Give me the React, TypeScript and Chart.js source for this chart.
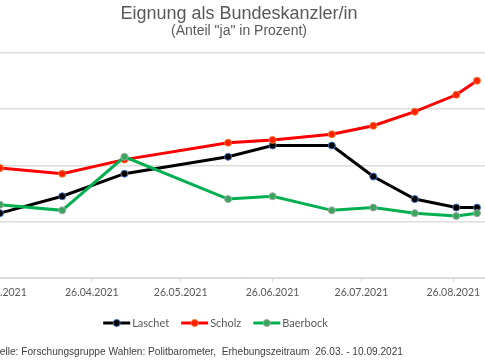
import React, { useEffect, useRef } from 'react';
import { Chart, registerables } from 'chart.js';

Chart.register(...registerables);

// ---- data ----
const surveyDates = ['2021-03-26', '2021-04-16', '2021-05-07', '2021-06-11', '2021-06-26', '2021-07-16', '2021-07-30', '2021-08-13', '2021-08-27', '2021-09-03'];
const laschet = [23, 29, 37, 43, 47, 47, 36, 28, 25, 25];
const scholz = [39, 37, 42, 48, 49, 51, 54, 59, 65, 70];
const baerbock = [26, 24, 43, 28, 29, 24, 25, 23, 22, 23];
const seriesNames = ['Laschet', 'Scholz', 'Baerbock'];
const axisTickDates = ['2021-03-26', '2021-04-26', '2021-05-26', '2021-06-26', '2021-07-26', '2021-08-26'];
const yTicks = [0, 20, 40, 60, 80];
const titleText = 'Eignung als Bundeskanzler/in';
const subtitleText = '(Anteil "ja" in Prozent)';
const sourceText = 'Quelle: Forschungsgruppe Wahlen: Politbarometer,  Erhebungszeitraum  26.03. - 10.09.2021';

const BASE = Date.UTC(2021, 2, 26);
const dayOf = (iso: string) => {
  const [y, m, d] = iso.split('-').map(Number);
  return Math.round((Date.UTC(y, m - 1, d) - BASE) / 86400000);
};
const fmtDay = (v: number) => {
  const dt = new Date(BASE + v * 86400000);
  const dd = String(dt.getUTCDate()).padStart(2, '0');
  const mm = String(dt.getUTCMonth() + 1).padStart(2, '0');
  return `${dd}.${mm}.${dt.getUTCFullYear()}`;
};

const CANVAS_LEFT = -40;
const CANVAS_W = 570;
const CANVAS_H = 360;

const legendPlugin = {
  id: 'lineLegend',
  afterDraw(chart: any, _args: any, opts: any) {
    const ctx = chart.ctx;
    ctx.save();
    ctx.font = opts.font;
    const lineLen = 27;
    const gap = 2;
    const itemGap = 12;
    const items = chart.data.datasets.map((ds: any) => ({ ds, w: ctx.measureText(ds.label).width }));
    const total = items.reduce((s: number, it: any) => s + lineLen + gap + it.w, 0) + itemGap * (items.length - 1);
    let x = opts.centerX - total / 2;
    const y = opts.y;
    items.forEach((it: any) => {
      const ds = it.ds;
      ctx.strokeStyle = ds.borderColor;
      ctx.lineWidth = 3;
      ctx.beginPath();
      ctx.moveTo(x, y);
      ctx.lineTo(x + lineLen, y);
      ctx.stroke();
      ctx.beginPath();
      ctx.arc(x + lineLen / 2, y, 3.5, 0, Math.PI * 2);
      ctx.fillStyle = ds.pointBackgroundColor;
      ctx.fill();
      ctx.lineWidth = 1;
      ctx.strokeStyle = ds.pointBorderColor;
      ctx.stroke();
      ctx.fillStyle = opts.color;
      ctx.textBaseline = 'middle';
      ctx.textAlign = 'left';
      ctx.fillText(ds.label, x + lineLen + gap, y + 0.5);
      x += lineLen + gap + it.w + itemGap;
    });
    ctx.restore();
  },
};

export default function App() {
  const ref = useRef<HTMLCanvasElement | null>(null);

  useEffect(() => {
    if (!ref.current) return;
    const days = surveyDates.map(dayOf);
    const tickDays = axisTickDates.map(dayOf);
    const mk = (vals: number[]) => days.map((d, i) => ({ x: d, y: vals[i] }));
    const chart = new Chart(ref.current, {
      type: 'line',
      data: {
        datasets: [
          {
            label: seriesNames[0], data: mk(laschet), order: 2,
            borderColor: '#000000', backgroundColor: '#000000', borderWidth: 3,
            pointRadius: 3.5, pointBackgroundColor: '#000000', pointBorderColor: '#4472C4', pointBorderWidth: 1,
          },
          {
            label: seriesNames[1], data: mk(scholz), order: 1,
            borderColor: '#FF0000', backgroundColor: '#FF0000', borderWidth: 3,
            pointRadius: 3.5, pointBackgroundColor: '#FF2000', pointBorderColor: '#ED7D31', pointBorderWidth: 1,
          },
          {
            label: seriesNames[2], data: mk(baerbock), order: 0,
            borderColor: '#00B050', backgroundColor: '#00B050', borderWidth: 3,
            pointRadius: 3.5, pointBackgroundColor: '#3aa45e', pointBorderColor: '#A5A5A5', pointBorderWidth: 1,
          },
        ] as any,
      },
      options: {
        responsive: false,
        animation: false,
        devicePixelRatio: 1,
        layout: { padding: { top: 52.5, bottom: 60, left: 0, right: 0 } },
        plugins: {
          legend: { display: false },
          tooltip: { enabled: false },
          title: { display: false },
          lineLegend: { centerX: 215.5 - CANVAS_LEFT, y: 323, font: '11px Lato', color: '#595959' },
        } as any,
        scales: {
          x: {
            type: 'linear',
            min: -11.8,
            max: 177.2,
            afterBuildTicks: (s: any) => { s.ticks = tickDays.map((v) => ({ value: v })); },
            afterFit: (s: any) => { s.height = 22; },
            ticks: {
              callback: (v: any) => fmtDay(Number(v)),
              color: '#595959',
              font: { family: 'Lato', size: 10.5 },
              padding: 4.5,
              maxRotation: 0,
              autoSkip: false,
            },
            grid: { drawOnChartArea: false, drawTicks: true, tickLength: 4, color: '#d9d9d9' },
            border: { display: true, color: '#d9d9d9', width: 1 },
          },
          y: {
            min: 0,
            max: 80,
            afterBuildTicks: (s: any) => { s.ticks = yTicks.map((v) => ({ value: v })); },
            ticks: { display: false },
            grid: { color: '#dcdcdc', lineWidth: 1.5, drawTicks: false },
            border: { display: false },
          },
        },
      } as any,
      plugins: [legendPlugin],
    });
    return () => chart.destroy();
  }, []);

  return (
    <div style={{ position: 'fixed', left: 0, top: 0, width: 485, height: 360, overflow: 'hidden', background: '#ffffff' }}>
      <canvas ref={ref} width={CANVAS_W} height={CANVAS_H}
        style={{ position: 'absolute', left: CANVAS_LEFT, top: 0, width: CANVAS_W, height: CANVAS_H }} />
      <div style={{ position: 'absolute', left: 0, top: 4.3, width: 478, textAlign: 'center', font: '18px "Liberation Sans", Arial, sans-serif', lineHeight: '18px', color: '#595959', whiteSpace: 'nowrap' }}>
        {titleText}
      </div>
      <div style={{ position: 'absolute', left: 0, top: 23.4, width: 478, textAlign: 'center', font: '14px "Liberation Sans", Arial, sans-serif', lineHeight: '14px', color: '#595959', whiteSpace: 'nowrap' }}>
        {subtitleText}
      </div>
      <div style={{ position: 'absolute', right: 82, top: 346.5, textAlign: 'right', font: '10.15px "Liberation Sans", Arial, sans-serif', lineHeight: '10px', color: '#404040', whiteSpace: 'pre' }}>
        {sourceText}
      </div>
    </div>
  );
}
